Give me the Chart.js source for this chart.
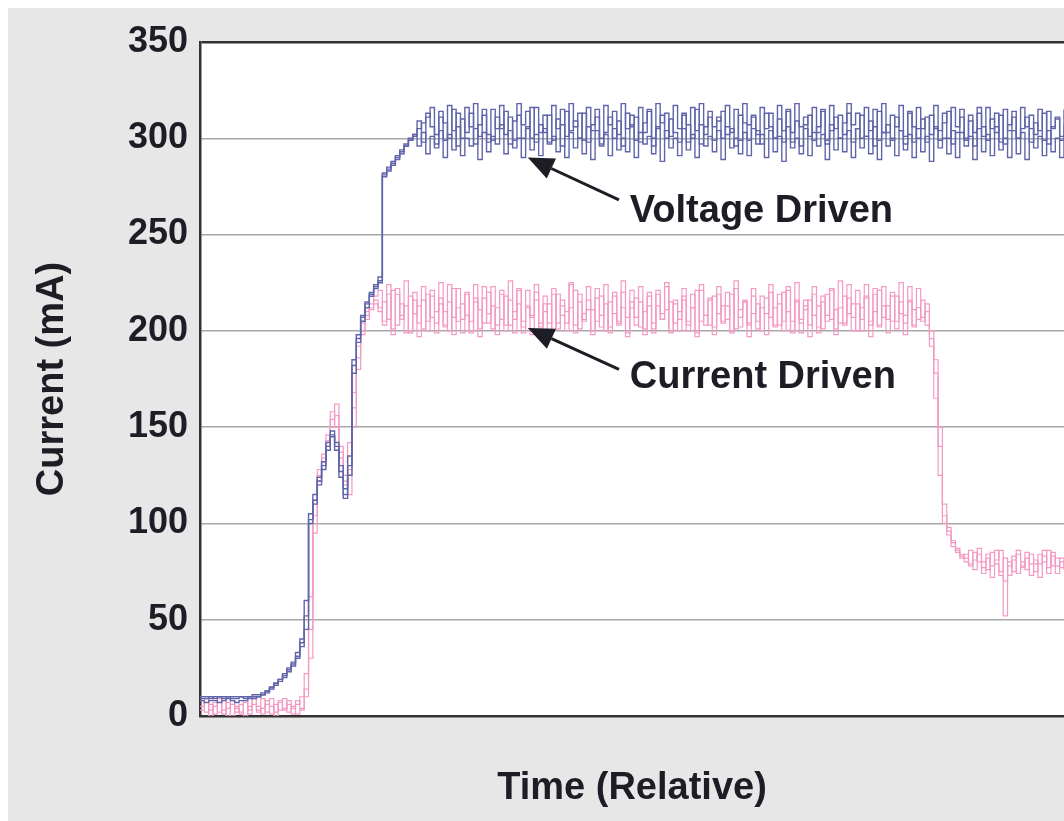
<!DOCTYPE html>
<html>
<head>
<meta charset="utf-8">
<script src="https://cdn.jsdelivr.net/npm/chart.js@4"></script>
<style>
  html, body { margin: 0; padding: 0; background: #fff; overflow: hidden; }
  body { padding: 8px 0 0 8px; }
  #wrap { width: 1056px; height: 813px; background: #e7e7e7; }
</style>
</head>
<body>
<div id="wrap"><canvas id="chart" width="1056" height="813"></canvas></div>
<script>
// y axis ticks
const yTicks = [0, 50, 100, 150, 200, 250, 300, 350];

// three overlaid scope traces for each drive mode, one sample every ~4 px of the relative time axis
const voltageA = [
  10, 10, 9, 10, 10, 9, 10, 10, 10, 10,
  10, 10, 10, 10, 11, 12, 14, 16, 18, 20,
  23, 26, 30, 36, 45, 100, 110, 120, 128, 138,
  145, 142, 130, 118, 125, 178, 194, 205, 212, 218,
  222, 225, 280, 283, 286, 289, 292, 296, 299, 302,
  305, 308, 311, 316, 302, 314, 299, 317, 304, 313,
  300, 316, 306, 318, 301, 312, 298, 315, 305, 317,
  302, 311, 299, 318, 307, 314, 300, 316, 303, 312,
  298, 317, 305, 315, 301, 318, 306, 313, 299, 316,
  304, 311, 300, 317, 307, 314, 302, 318, 305, 312,
  299, 316, 303, 315, 300, 318, 308, 313, 301, 317,
  305, 312, 298, 316, 304, 318, 302, 314, 306, 311,
  300, 317, 303, 315, 299, 318, 307, 312, 302, 316,
  305, 313, 300, 317, 304, 315, 298, 318, 306, 311,
  301, 316, 303, 314, 299, 317, 305, 312, 302, 318,
  307, 313, 300, 316, 304, 315, 299, 318, 303, 312,
  306, 317, 301, 314, 298, 316, 305, 311, 302, 317,
  304, 313, 300, 316, 306, 315, 299, 312, 303, 316,
  301, 316, 305, 313, 298, 315, 304, 311, 300, 316,
  306, 312, 302, 315, 299, 314, 305, 311, 301, 315
];
const voltageB = [
  8, 7, 8, 8, 7, 8, 9, 8, 7, 8,
  8, 9, 9, 10, 11, 13, 15, 17, 19, 22,
  25, 28, 33, 40, 60, 105, 115, 124, 132, 142,
  148, 138, 124, 113, 135, 185, 198, 208, 215, 220,
  224, 228, 282, 285, 288, 291, 294, 297, 300, 302,
  296, 303, 292, 301, 295, 304, 290, 302, 294, 306,
  291, 300, 296, 305, 289, 303, 293, 301, 297, 307,
  292, 304, 295, 300, 290, 306, 294, 302, 291, 305,
  297, 301, 293, 307, 290, 303, 295, 300, 292, 306,
  289, 304, 296, 302, 291, 305, 294, 300, 293, 307,
  290, 303, 297, 301, 292, 306, 288, 304, 295, 300,
  291, 305, 294, 302, 290, 307, 296, 301, 293, 304,
  289, 306, 295, 300, 292, 303, 291, 305, 297, 302,
  290, 304, 293, 301, 288, 306, 295, 300, 292, 305,
  291, 303, 296, 302, 289, 307, 294, 300, 293, 304,
  290, 305, 295, 301, 292, 306, 289, 303, 296, 300,
  291, 304, 294, 302, 290, 305, 293, 301, 288, 306,
  295, 300, 292, 304, 290, 303, 296, 301, 289, 305,
  293, 302, 291, 306, 294, 300, 290, 304, 292, 303,
  289, 305, 295, 301, 291, 304, 293, 300, 290, 302
];
const voltageC = [
  9, 9, 10, 9, 10, 10, 10, 9, 9, 10,
  9, 10, 11, 11, 12, 13, 15, 17, 19, 21,
  24, 27, 31, 38, 52, 102, 112, 122, 130, 140,
  146, 140, 127, 115, 130, 182, 196, 207, 214, 219,
  223, 226, 281, 284, 287, 290, 293, 296, 299, 301,
  309, 298, 313, 306, 297, 311, 308, 300, 315, 296,
  310, 303, 313, 297, 307, 315, 302, 299, 311, 305,
  314, 297, 309, 312, 300, 305, 316, 298, 307, 303,
  312, 299, 310, 296, 314, 304, 309, 300, 313, 298,
  307, 315, 297, 303, 311, 300, 309, 296, 313, 306,
  311, 298, 308, 314, 296, 305, 312, 300, 310, 303,
  298, 313, 307, 300, 315, 297, 306, 311, 299, 309,
  314, 302, 305, 296, 312, 308, 299, 311, 304, 297,
  313, 306, 300, 310, 298, 314, 303, 309, 296, 307,
  312, 299, 306, 315, 297, 304, 311, 300, 308, 313,
  298, 305, 312, 301, 309, 296, 314, 303, 307, 299,
  311, 304, 297, 313, 306, 300, 310, 298, 312, 305,
  299, 308, 314, 297, 303, 311, 300, 309, 296, 313,
  306, 299, 310, 303, 312, 297, 307, 314, 300, 305,
  311, 298, 308, 304, 313, 297, 306, 310, 299, 307
];
const currentA = [
  8, 2, 6, 1, 9, 3, 7, 0, 5, 2,
  8, 1, 6, 3, 9, 2, 5, 0, 7, 3,
  8, 4, 6, 10, 22, 62, 112, 128, 136, 146,
  158, 150, 134, 120, 142, 168, 192, 204, 210, 214,
  218, 221, 205, 224, 201, 219, 208, 226, 199, 216,
  204, 223, 200, 218, 210, 225, 202, 215, 207, 222,
  199, 220, 205, 224, 201, 217, 209, 223, 203, 219,
  200, 226, 206, 214, 202, 221, 208, 224, 199, 218,
  204, 222, 201, 216, 210, 225, 203, 219, 206, 223,
  200, 217, 208, 224, 202, 220, 205, 226, 199, 215,
  207, 223, 201, 218, 204, 221, 209, 225, 200, 216,
  206, 222, 203, 219, 199, 224, 208, 217, 202, 223,
  205, 220, 200, 226, 207, 215, 203, 222, 201, 218,
  209, 224, 202, 219, 205, 221, 200, 225, 206, 216,
  203, 223, 199, 218, 208, 222, 201, 226, 204, 217,
  207, 221, 200, 224, 205, 219, 202, 223, 206, 218,
  201, 225, 208, 216, 203, 222, 205, 210, 196, 178,
  150, 104, 94, 88, 85, 83, 80, 86, 76, 84,
  74, 82, 78, 86, 73, 52, 80, 75, 84, 77,
  85, 73, 81, 79, 86, 74, 83, 78, 82, 76
];
const currentB = [
  3, 7, 0, 5, 10, 1, 4, 8, 2, 6,
  0, 5, 9, 2, 4, 8, 1, 6, 3, 9,
  2, 5, 1, 4, 10, 30, 95, 122, 132, 140,
  150, 162, 140, 125, 115, 150, 180, 198, 206, 211,
  214, 212, 203, 219, 198, 222, 206, 213, 200, 220,
  197, 216, 205, 221, 199, 214, 203, 224, 198, 212,
  206, 219, 200, 215, 197, 223, 204, 213, 198, 221,
  203, 216, 199, 222, 205, 212, 198, 220, 202, 214,
  197, 219, 204, 213, 200, 224, 199, 215, 205, 211,
  198, 222, 202, 214, 199, 218, 204, 212, 197, 221,
  203, 215, 198, 220, 201, 213, 206, 223, 199, 214,
  200, 218, 205, 212, 197, 221, 203, 216, 198, 219,
  204, 213, 199, 222, 202, 215, 197, 218, 205, 212,
  198, 220, 203, 214, 200, 223, 199, 216, 204, 213,
  197, 219, 202, 215, 205, 221, 198, 212, 203, 224,
  200, 214, 206, 218, 197, 222, 203, 213, 199, 220,
  205, 215, 198, 223, 202, 212, 207, 214, 192, 165,
  125, 100, 96, 90, 87, 84, 82, 78, 85, 80,
  77, 84, 72, 81, 86, 70, 78, 83, 74, 80,
  76, 84, 79, 72, 83, 77, 85, 74, 80, 81
];
const currentC = [
  5, 9, 3, 7, 2, 8, 0, 6, 4, 1,
  7, 3, 10, 5, 1, 6, 9, 2, 8, 4,
  6, 1, 8, 3, 14, 45, 104, 125, 134, 143,
  154, 156, 137, 122, 128, 160, 186, 200, 208, 212,
  216, 210, 215, 206, 221, 203, 214, 199, 218, 209,
  213, 201, 219, 207, 204, 217, 210, 200, 222, 205,
  214, 208, 199, 217, 211, 204, 220, 201, 212, 206,
  218, 203, 210, 221, 199, 213, 207, 216, 204, 210,
  214, 200, 219, 208, 204, 212, 221, 201, 209, 216,
  211, 205, 218, 200, 215, 209, 203, 220, 207, 212,
  217, 202, 210, 213, 199, 219, 206, 211, 215, 204,
  210, 216, 200, 212, 221, 205, 208, 203, 218, 209,
  213, 206, 219, 201, 211, 216, 204, 209, 214, 200,
  217, 207, 212, 203, 220, 210, 205, 215, 199, 211,
  216, 208, 213, 201, 219, 206, 211, 204, 218, 209,
  214, 200, 212, 217, 203, 210, 221, 207, 213, 205,
  218, 209, 204, 215, 211, 206, 216, 203, 200, 185,
  140, 110, 98, 91, 86, 82, 84, 79, 81, 87,
  80, 76, 85, 79, 75, 82, 73, 81, 86, 78,
  82, 79, 75, 84, 80, 86, 78, 82, 77, 80
];

// callouts, placed in data units (sample index, mA)
const notes = [
  { text: 'Voltage Driven', at: [99, 262], tail: [96.5, 268], tip: [75.5, 290] },
  { text: 'Current Driven', at: [99, 176], tail: [96.5, 180], tip: [75.5, 201.5] },
];

const BLUE = '#6065aa';
const PINK = '#f39ac3';
const INK = '#1d1d26';
const FONT = '"Liberation Sans", Arial, sans-serif';

// white plot area on the grey page
const plotBg = {
  id: 'plotBg',
  beforeDraw(chart) {
    const { ctx, chartArea: a } = chart;
    ctx.save();
    ctx.fillStyle = '#fff';
    ctx.fillRect(a.left, a.top, a.right - a.left, a.bottom - a.top);
    ctx.restore();
  },
};

const arrowNotes = {
  id: 'arrowNotes',
  afterDatasetsDraw(chart) {
    const { ctx, scales: { x, y } } = chart;
    ctx.save();
    notes.forEach((n) => {
      const x0 = x.getPixelForValue(n.tail[0]), y0 = y.getPixelForValue(n.tail[1]);
      const x1 = x.getPixelForValue(n.tip[0]), y1 = y.getPixelForValue(n.tip[1]);
      const ang = Math.atan2(y1 - y0, x1 - x0);
      const len = 26, half = 11;
      const bx = x1 - len * Math.cos(ang), by = y1 - len * Math.sin(ang);
      ctx.strokeStyle = INK;
      ctx.fillStyle = INK;
      ctx.lineWidth = 3;
      ctx.beginPath();
      ctx.moveTo(x0, y0);
      ctx.lineTo(bx, by);
      ctx.stroke();
      ctx.beginPath();
      ctx.moveTo(x1, y1);
      ctx.lineTo(bx + half * Math.sin(ang), by - half * Math.cos(ang));
      ctx.lineTo(bx - half * Math.sin(ang), by + half * Math.cos(ang));
      ctx.closePath();
      ctx.fill();

      ctx.font = 'bold 38px ' + FONT;
      ctx.textBaseline = 'middle';
      ctx.textAlign = 'left';
      ctx.fillText(n.text, x.getPixelForValue(n.at[0]), y.getPixelForValue(n.at[1]));
    });
    ctx.restore();
  },
};

const trace = (data, color, width) => ({
  data,
  borderColor: color,
  borderWidth: width,
  stepped: true,
  pointRadius: 0,
  fill: false,
});

new Chart(document.getElementById('chart'), {
  type: 'line',
  data: {
    labels: voltageA.map((_, i) => i),
    datasets: [
      trace(voltageA, BLUE, 1.4),
      trace(voltageB, BLUE, 1.4),
      trace(voltageC, BLUE, 1.4),
      trace(currentA, PINK, 1.2),
      trace(currentB, PINK, 1.2),
      trace(currentC, PINK, 1.2),
    ],
  },
  options: {
    responsive: false,
    animation: false,
    layout: { padding: { top: 34, right: 0, bottom: 0, left: 0 } },
    plugins: { legend: { display: false }, tooltip: { enabled: false } },
    scales: {
      x: {
        ticks: { display: false },
        grid: { display: false },
        border: { display: true, color: '#333', width: 2.5 },
        title: {
          display: true,
          text: 'Time (Relative)',
          color: INK,
          font: { family: FONT, size: 38, weight: 'bold' },
          padding: { top: 0, bottom: 10 },
        },
        afterFit: (s) => { s.height = 105; },
      },
      y: {
        min: 0,
        max: 350,
        afterBuildTicks: (s) => { s.ticks = yTicks.map((v) => ({ value: v })); },
        ticks: {
          color: INK,
          padding: 12,
          font: { family: FONT, size: 36, weight: 'bold' },
        },
        grid: {
          drawTicks: false,
          color: (c) => (c.tick && c.tick.value === 350 ? '#333' : '#a8a8a8'),
          lineWidth: (c) => (c.tick && c.tick.value === 350 ? 2.5 : 1.5),
        },
        border: { display: true, color: '#333', width: 2.5 },
        title: {
          display: true,
          text: 'Current (mA)',
          color: INK,
          font: { family: FONT, size: 38, weight: 'bold' },
          padding: { top: 22, bottom: 0 },
        },
        afterFit: (s) => { s.width = 192; },
      },
    },
  },
  plugins: [plotBg, arrowNotes],
});
</script>
</body>
</html>
